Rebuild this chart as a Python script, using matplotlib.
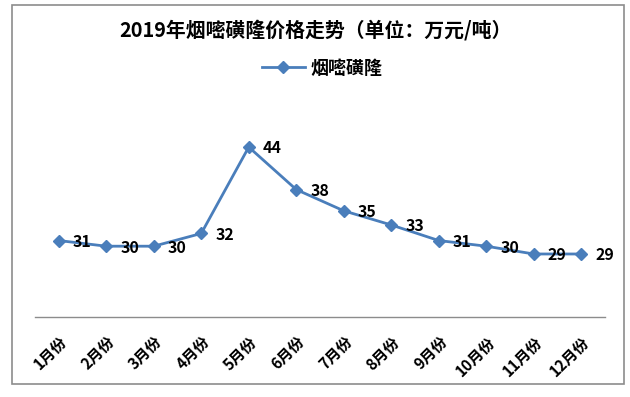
import matplotlib
matplotlib.use("Agg")
import matplotlib.pyplot as plt
from matplotlib.patches import Rectangle
import matplotlib.transforms as mtransforms

plt.rcParams['font.family'] = ['Noto Sans CJK SC', 'DejaVu Sans']

months = ["1月份", "2月份", "3月份", "4月份", "5月份", "6月份",
          "7月份", "8月份", "9月份", "10月份", "11月份", "12月份"]
prices = [30.8, 30.0, 30.0, 31.8, 44.0, 38.0, 35.0, 33.0, 30.8, 30.0, 28.9, 28.9]
series_name = "烟嘧磺隆"
title = "2019年烟嘧磺隆价格走势（单位：万元/吨）"

W, H = 630, 397
fig = plt.figure(figsize=(W / 100, H / 100), dpi=100)

# outer frame
fig.patches.append(Rectangle((12 / W, 1 - 384 / H), (624 - 12) / W, (384 - 5) / H,
                             transform=fig.transFigure, fill=False,
                             edgecolor='#8c8c8c', linewidth=1.2))

ax = fig.add_axes([35 / W, 1 - 317 / H, (605 - 35) / W, (317 - 104.6) / H])
x = list(range(len(months)))
color = '#4A7EBB'
line, = ax.plot(x, prices, color=color, linewidth=2.0, marker='D', markersize=6.5,
                markerfacecolor=color, markeredgecolor=color, label=series_name)

for xi, v in zip(x, prices):
    ax.annotate(f"{v:.0f}", (xi, v), xytext=(10, -1), textcoords='offset points',
                ha='left', va='center', fontsize=11.5, fontweight='bold', color='black')

ax.set_xlim(-0.5, len(months) - 0.5)
ax.set_ylim(20, 50)
ax.set_yticks([])
for s in ['top', 'right', 'left']:
    ax.spines[s].set_visible(False)
ax.spines['bottom'].set_color('#8c8c8c')
ax.spines['bottom'].set_linewidth(1.0)
ax.set_xticks(x)
ax.set_xticklabels(months, rotation=45, ha='right', va='center',
                   rotation_mode='anchor', fontsize=11, fontweight='bold')
ax.tick_params(axis='x', length=0, pad=16)
offset = mtransforms.ScaledTranslation(6 / 100, 0, fig.dpi_scale_trans)
for lbl in ax.get_xticklabels():
    lbl.set_transform(lbl.get_transform() + offset)

fig.text(0.5, 1 - 30 / H, title, ha='center', va='center',
         fontsize=14.3, fontweight='bold')

leg = fig.legend(handles=[line], loc='center', bbox_to_anchor=(322 / W, 1 - 68 / H),
                 frameon=False, handlelength=2.4, handletextpad=0.3,
                 prop={'weight': 'bold', 'size': 13})

fig.savefig("out.png", dpi=100)
